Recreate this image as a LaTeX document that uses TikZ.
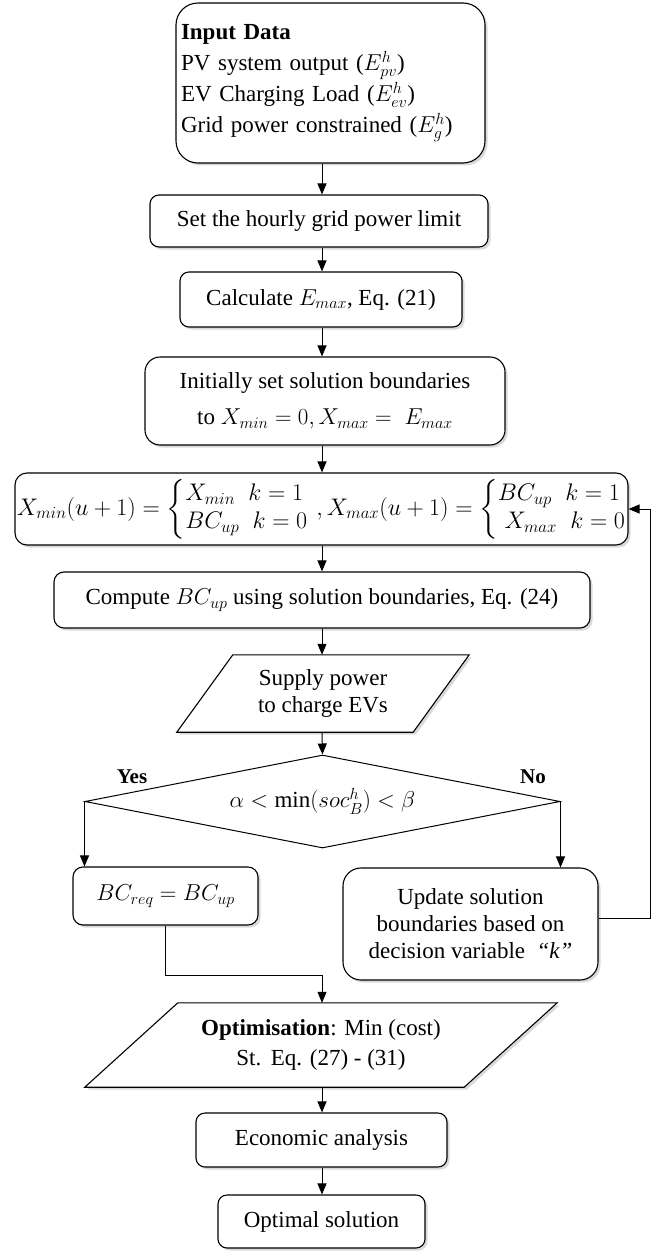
\RequirePackage{fix-cm}
\documentclass[tikz,border=0pt]{standalone}
\usepackage{amsmath}
\usepackage{fontspec}
\setmainfont{Liberation Serif}
\usetikzlibrary{arrows.meta,shapes.geometric,shadows}
\pgfdeclarelayer{background}
\pgfsetlayers{background,main}
\newcommand{\mycases}[2]{\left\{\begin{array}{@{}l@{}}#1\\[1pt]#2\end{array}\right.}
\begin{document}
\begin{tikzpicture}[x=1pt,y=-1pt,
  font=\fontsize{23}{28}\selectfont,
  box/.style={draw, line width=1.1pt, fill=white, rounded corners=#1, inner sep=0pt, align=center,
    drop shadow={shadow xshift=2.5pt, shadow yshift=-2.5pt, opacity=0.3}},
  box/.default=9pt,
  para/.style={draw, line width=1.1pt, fill=white,
    drop shadow={shadow xshift=2.5pt, shadow yshift=-2.5pt, opacity=0.3}},
  arr/.style={-{Triangle[length=11pt,width=9pt]}, line width=1pt},
  lbl/.style={font=\fontsize{21}{24}\selectfont\bfseries, inner sep=0pt}
]
\useasboundingbox (0,0) rectangle (665,1252);
\coordinate (ax) at (322,0);

\node[box=22pt, minimum width=309pt, minimum height=160pt, text width=299pt, align=left,
  font=\fontsize{23}{31}\selectfont] (inp) at (330.5,83)
  {\textbf{Input Data}\\ PV system output ($E_{pv}^{h}$)\\ EV Charging Load ($E_{ev}^{h}$)\\ Grid power constrained ($E_{g}^{h}$)};

\node[box, minimum width=338pt, minimum height=52pt] (set) at (319,221) {Set the hourly grid power limit};

\node[box, minimum width=282pt, minimum height=55pt] (calc) at (321,299.5) {Calculate $E_{max}$, Eq. (21)};

\node[box=15pt, minimum width=360pt, minimum height=88pt] (init) at (325,401)
  {Initially set solution boundaries\\[8pt] to $X_{min}=0, X_{max} = \; E_{max}$};

\node[box=12pt, minimum width=613pt, minimum height=72pt, font=\fontsize{24}{27}\selectfont] (form) at (321.5,509)
  {$X_{min}(u+1) = \mycases{X_{min}\;\; k=1}{BC_{up}\;\; k=0}\,, X_{max}(u+1) = \mycases{BC_{up}\;\; k=1}{\;X_{max}\;\; k=0}$};

\node[box=10pt, minimum width=536pt, minimum height=56pt] (comp) at (322,600)
  {Compute $BC_{up}$ using solution boundaries, Eq. (24)};

\node[minimum width=236pt, minimum height=77pt, inner sep=0pt, align=center,
  font=\fontsize{23}{27}\selectfont] (sup) at (323,693.5) {Supply power\\to charge EVs};
\begin{pgfonlayer}{background}
\draw[para] ([xshift=28pt]sup.north west) -- ([xshift=28pt]sup.north east)
  -- ([xshift=-28pt]sup.south east) -- ([xshift=-28pt]sup.south west) -- cycle;
\end{pgfonlayer}

\node[draw, line width=1pt, diamond, shape aspect=5, minimum width=475pt, minimum height=93pt,
  inner sep=0pt] (dia) at (322.5,801.5) {$\alpha < \min(soc_B^h) < \beta$};

\node[lbl] (yes) at (132,777) {Yes};
\node[lbl] (no) at (533,777) {No};

\node[box=10pt, minimum width=185pt, minimum height=58pt] (req) at (165.5,896) {$BC_{req} = BC_{up}$};

\node[box=18pt, minimum width=255pt, minimum height=112pt, font=\fontsize{23}{27}\selectfont] (upd) at (470.5,924)
  {Update solution\\boundaries based on\\decision variable \ \textit{“k”}};

\node[minimum width=379pt, minimum height=84pt, inner sep=0pt, align=center,
  font=\fontsize{23}{30}\selectfont] (opt) at (321,1045)
  {\textbf{Optimisation}: Min (cost)\\ St.\ \,Eq. (27) - (31)};
\begin{pgfonlayer}{background}
\draw[para] ([xshift=46.5pt]opt.north west) -- ([xshift=46.5pt]opt.north east)
  -- ([xshift=-46.5pt]opt.south east) -- ([xshift=-46.5pt]opt.south west) -- cycle;
\end{pgfonlayer}

\node[box, minimum width=251pt, minimum height=54pt] (eco) at (321.5,1140) {Economic analysis};
\node[box, minimum width=207pt, minimum height=53pt] (sol) at (321.5,1221.5) {Optimal solution};

\coordinate (j) at (322,975);

\draw[arr] (inp.south -| ax) -- (set.north -| ax);
\draw[arr] (set.south -| ax) -- (calc.north -| ax);
\draw[arr] (calc.south -| ax) -- (init.north -| ax);
\draw[arr] (init.south -| ax) -- (form.north -| ax);
\draw[arr] (form.south -| ax) -- (comp.north -| ax);
\draw[arr] (comp.south -| ax) -- (sup.north -| ax);
\draw[arr] (sup.south -| ax) -- (dia.north);
\draw[arr] (dia.west) -- (dia.west |- req.north);
\draw[arr] (dia.east) -- (dia.east |- upd.north);
\draw[arr] (req.south) |- (j) -- (opt.north -| ax);
\draw[arr] ([yshift=6pt]upd.east) -- ++(52,0) |- (form.east);
\draw[arr] (opt.south -| ax) -- (eco.north -| ax);
\draw[arr] (eco.south -| ax) -- (sol.north -| ax);
\end{tikzpicture}
\end{document}
